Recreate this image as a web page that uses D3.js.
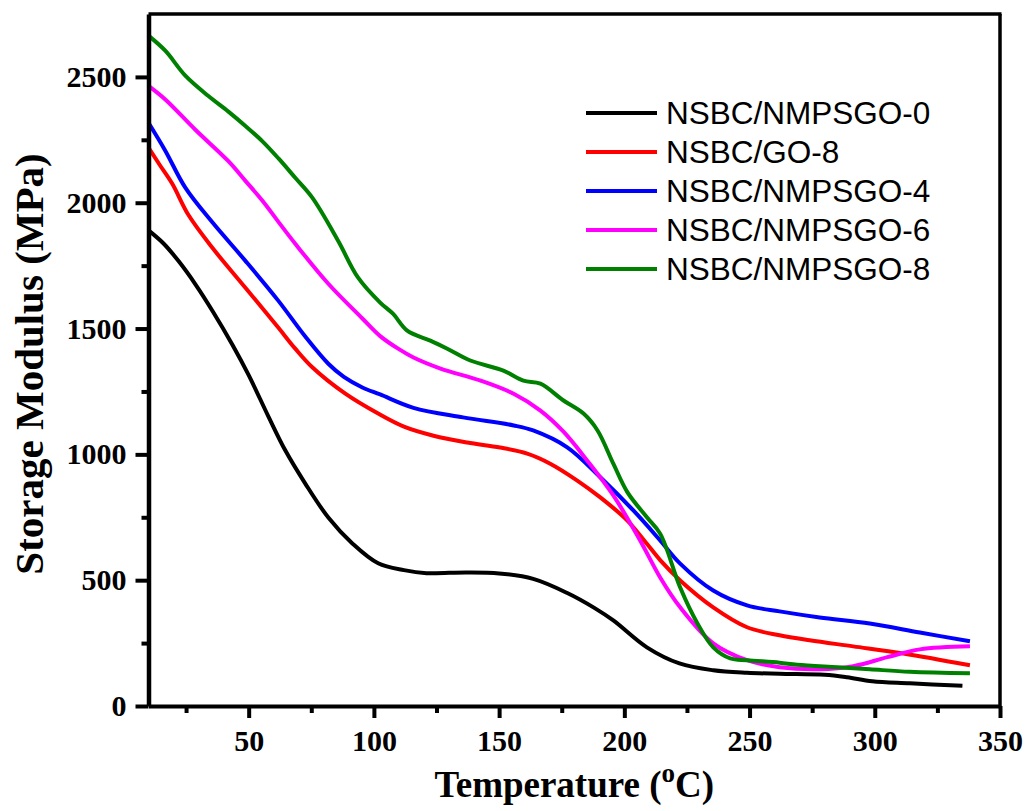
<!DOCTYPE html>
<html>
<head>
<meta charset="utf-8">
<script src="https://cdn.jsdelivr.net/npm/d3@7/dist/d3.min.js"></script>
<style>
  html, body { margin: 0; padding: 0; background: #fff; }
  svg { display: block; }
</style>
</head>
<body>
<svg id="chart" width="1029" height="811"></svg>
<script>
// ---------- data (Temperature °C, Storage Modulus MPa) ----------
const seriesNames = ["NSBC/NMPSGO-0", "NSBC/GO-8", "NSBC/NMPSGO-4", "NSBC/NMPSGO-6", "NSBC/NMPSGO-8"];
const seriesColors = ["#000000", "#ff0000", "#0000ff", "#ff00ff", "#008000"];

const nmpsgo0 = [[10,1890],[16,1838],[22,1768],[29,1672],[35.5,1571],[43.5,1436],[50,1315],[57.9,1150],[64.6,1016],[72.6,884],[81.8,749],[91.4,646],[101.7,567],[112,540],[121,528],[137,531],[150,527],[163.6,505],[177,450],[188,390],[195.6,340],[209,233],[222,169],[235.5,142],[249,132],[262,128],[280,124],[289,114],[299,98],[314,90],[335,80]];
const go8 = [[10,2219],[14.5,2150],[19.5,2075],[25.9,1952],[35.5,1821],[48.7,1662],[61.8,1504],[68.6,1420],[75.4,1346],[88.6,1241],[101.7,1162],[112,1110],[123.8,1074],[137.3,1047],[150.4,1027],[161.2,1003],[170.4,963],[181.2,896],[190.4,829],[201.2,737],[209,645],[214.3,580],[222.3,499],[235.5,392],[249,313],[262,281],[274,261],[291.4,237],[311.4,209],[338,162]];
const nmpsgo4 = [[10,2318],[16.7,2207],[24.7,2060],[35.5,1922],[48.7,1769],[61.8,1611],[72.6,1468],[81.8,1360],[88,1308],[95.4,1266],[102.5,1238],[115.8,1185],[135.6,1147],[155.8,1115],[163.6,1095],[177.2,1028],[190.4,909],[203.6,777],[214.3,658],[222.3,566],[235.5,459],[249,400],[262,376],[278,352],[298,328],[318,292],[338,257]];
const nmpsgo6 = [[10,2464],[16.7,2410],[28.7,2290],[41.9,2165],[48.7,2087],[55.5,2008],[61.8,1925],[68.6,1837],[81.8,1678],[95.4,1540],[102.5,1470],[110,1418],[115.8,1385],[126.6,1341],[142.6,1293],[155.8,1241],[166.5,1174],[175.7,1090],[185.2,975],[195.6,837],[206.3,658],[214.3,511],[222.3,392],[235.5,249],[249,182],[262,154],[278,146],[291.4,158],[305,194],[318,225],[338,237]];
const nmpsgo8 = [[10,2664],[16.7,2604],[24.7,2505],[33.8,2425],[41.9,2362],[48.7,2305],[55.5,2244],[62,2175],[68.6,2099],[75.4,2020],[85.7,1849],[93.7,1702],[102.5,1603],[107.7,1558],[113.3,1492],[122.5,1452],[129.3,1420],[138.5,1373],[151.7,1333],[159.7,1293],[166.5,1281],[175.7,1214],[183.7,1162],[189.3,1095],[195.6,963],[201.2,850],[209.1,749],[214.3,685],[222.3,471],[229.1,330],[235.5,233],[242.3,189],[249,182],[262,172],[269,164],[285,154],[298,146],[314,136],[338,130]];

const xTicks = [50, 100, 150, 200, 250, 300, 350];
const yTicks = [0, 500, 1000, 1500, 2000, 2500];
const xMinorTicks = [25, 75, 125, 175, 225, 275, 325];
const yMinorTicks = [250, 750, 1250, 1750, 2250];

// ---------- layout ----------
const svg = d3.select("#chart");
const plotLeft = 148.5, plotRight = 1000, plotTop = 14, plotBottom = 706;

const x = d3.scaleLinear().domain([10, 350]).range([plotLeft, plotRight]);
const y = d3.scaleLinear().domain([0, 2750]).range([plotBottom, plotTop]);

const allSeries = [nmpsgo0, go8, nmpsgo4, nmpsgo6, nmpsgo8];

const line = d3.line()
  .x(d => x(d[0]))
  .y(d => y(d[1]))
  .curve(d3.curveCatmullRom.alpha(0.5));

const tickFont = "'Liberation Serif', 'Times New Roman', serif";

// curves
svg.append("g").selectAll("path")
  .data(allSeries)
  .join("path")
  .attr("d", d => line(d))
  .attr("fill", "none")
  .attr("stroke", (d, i) => seriesColors[i])
  .attr("stroke-width", 4)
  .attr("stroke-linejoin", "round")
  .attr("stroke-linecap", "butt");

// top and right frame
svg.append("line").attr("x1", plotLeft).attr("x2", plotRight + 1.5).attr("y1", plotTop).attr("y2", plotTop)
  .attr("stroke", "#000").attr("stroke-width", 3.5);
svg.append("line").attr("x1", plotRight).attr("x2", plotRight).attr("y1", plotTop).attr("y2", plotBottom)
  .attr("stroke", "#000").attr("stroke-width", 3.5);

// bottom axis
const fmt = d3.format("d");
const xAxis = d3.axisBottom(x).tickValues(xTicks).tickFormat(fmt).tickSize(12).tickPadding(12).tickSizeOuter(0);
const gx = svg.append("g").attr("transform", `translate(0,${plotBottom})`).call(xAxis);
gx.select(".domain").attr("stroke-width", 4);
gx.selectAll(".tick line").attr("stroke-width", 4);
gx.selectAll(".tick text").attr("font-family", tickFont).attr("font-weight", "bold")
  .attr("font-size", 30).attr("fill", "#000");
const xMinor = d3.axisBottom(x).tickValues(xMinorTicks).tickSize(7).tickFormat("").tickSizeOuter(0);
const gxm = svg.append("g").attr("transform", `translate(0,${plotBottom})`).call(xMinor);
gxm.select(".domain").remove();
gxm.selectAll(".tick line").attr("stroke-width", 4);

// left axis
const yAxis = d3.axisLeft(y).tickValues(yTicks).tickFormat(fmt).tickSize(13).tickPadding(9).tickSizeOuter(0);
const gy = svg.append("g").attr("transform", `translate(${plotLeft},0)`).call(yAxis);
gy.select(".domain").attr("stroke-width", 4.5);
gy.selectAll(".tick line").attr("stroke-width", 4);
gy.selectAll(".tick text").attr("font-family", tickFont).attr("font-weight", "bold")
  .attr("font-size", 30).attr("fill", "#000");
const yMinor = d3.axisLeft(y).tickValues(yMinorTicks).tickSize(7).tickFormat("").tickSizeOuter(0);
const gym = svg.append("g").attr("transform", `translate(${plotLeft},0)`).call(yMinor);
gym.select(".domain").remove();
gym.selectAll(".tick line").attr("stroke-width", 4);

// axis titles
const xt = svg.append("text")
  .attr("x", (plotLeft + plotRight) / 2)
  .attr("y", 797)
  .attr("text-anchor", "middle")
  .attr("font-family", tickFont)
  .attr("font-weight", "bold")
  .attr("font-size", 37)
  .attr("fill", "#000");
xt.append("tspan").text("Temperature (");
xt.append("tspan").attr("font-size", 27).attr("dy", -15).text("o");
xt.append("tspan").attr("dy", 15).text("C)");

svg.append("text")
  .attr("transform", `translate(43,${364}) rotate(-90)`)
  .attr("text-anchor", "middle")
  .attr("font-family", tickFont)
  .attr("font-weight", "bold")
  .attr("font-size", 41)
  .attr("fill", "#000")
  .text("Storage Modulus (MPa)");

// legend
const legendY0 = 113, legendStep = 39;
const lg = svg.append("g");
seriesNames.forEach((name, i) => {
  const cy = legendY0 + i * legendStep;
  lg.append("line").attr("x1", 586).attr("x2", 657).attr("y1", cy).attr("y2", cy)
    .attr("stroke", seriesColors[i]).attr("stroke-width", 4);
  lg.append("text").attr("x", 666).attr("y", cy + 11)
    .attr("font-family", "'Liberation Sans', Arial, sans-serif")
    .attr("font-size", 31.5).attr("fill", "#000").text(name);
});
</script>
</body>
</html>
